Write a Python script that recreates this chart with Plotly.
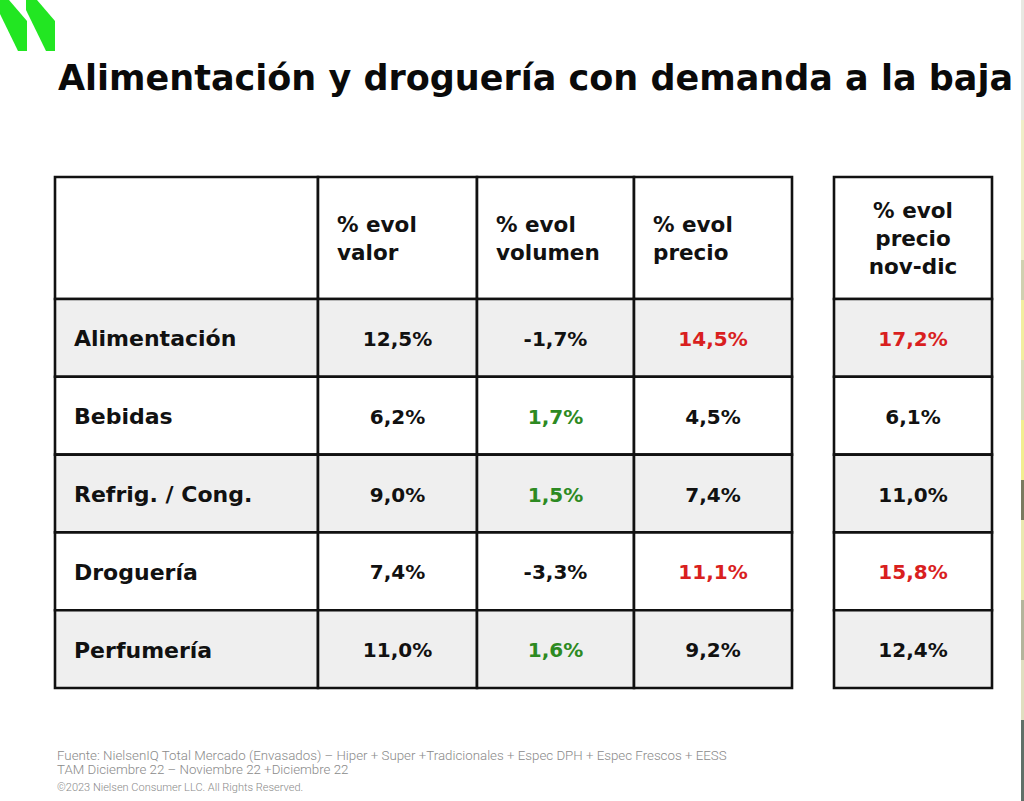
import plotly.graph_objects as go

# ---------------- data ----------------
title_text = "Alimentación y droguería con demanda a la baja"
categories = ["Alimentación", "Bebidas", "Refrig. / Cong.", "Droguería", "Perfumería"]
headers_main = ["% evol<br>valor", "% evol<br>volumen", "% evol<br>precio"]
header_side = "% evol<br>precio<br>nov-dic"
evol_valor = [12.5, 6.2, 9.0, 7.4, 11.0]
evol_volumen = [-1.7, 1.7, 1.5, -3.3, 1.6]
evol_precio = [14.5, 4.5, 7.4, 11.1, 9.2]
evol_precio_novdic = [17.2, 6.1, 11.0, 15.8, 12.4]
# cell highlight flags ("up" = green, "hi" = red)
volumen_flag = ["", "up", "up", "", "up"]
precio_flag = ["hi", "", "", "hi", ""]
novdic_flag = ["hi", "", "", "hi", ""]
footer_lines = [
    "Fuente: NielsenIQ Total Mercado (Envasados) – Hiper + Super +Tradicionales + Espec DPH + Espec Frescos + EESS",
    "TAM Diciembre 22 – Noviembre 22 +Diciembre 22",
]
copyright_text = "©2023 Nielsen Consumer LLC. All Rights Reserved."

# ---------------- styling / layout ----------------
W, H = 1024, 801
RED = "#d91f1f"
GREEN = "#2d8a22"
BLACK = "#111111"
GRAY_FILL = "#efefef"
FONT_B = "DejaVu Sans"
col_edges = [55, 318, 477, 634, 792]
side_edges = [834, 992]
top_y, head_bottom = 177, 299
row_h = 77.8
BORDER = 2.6
TXT_DY = 3  # optical offset for vertical centring of text


def fmt(v):
    return f"{v:.1f}".replace(".", ",") + "%"


def color_of(flag):
    return {"up": GREEN, "hi": RED}.get(flag, BLACK)


fig = go.Figure()
shapes = []

# row boundaries
row_edges = [head_bottom + i * row_h for i in range(len(categories) + 1)]

# header cells
for x0, x1 in list(zip(col_edges[:-1], col_edges[1:])) + [tuple(side_edges)]:
    shapes.append(dict(type="rect", xref="x", yref="y", x0=x0, x1=x1, y0=top_y, y1=head_bottom,
                       fillcolor="white", line=dict(color=BLACK, width=BORDER), layer="below"))
# body cells
for i in range(len(categories)):
    fill = GRAY_FILL if i % 2 == 0 else "white"
    y0, y1 = row_edges[i], row_edges[i + 1]
    for x0, x1 in list(zip(col_edges[:-1], col_edges[1:])) + [tuple(side_edges)]:
        shapes.append(dict(type="rect", xref="x", yref="y", x0=x0, x1=x1, y0=y0, y1=y1,
                           fillcolor=fill, line=dict(color=BLACK, width=BORDER), layer="below"))

# logo stripes
for dx in (0, 28):
    pts = [(-2 + dx, 0), (9 + dx, 0), (27 + dx, 21), (27 + dx, 51), (18 + dx, 51), (-2 + dx, 10)]
    path = "M " + " L ".join(f"{x},{y}" for x, y in pts) + " Z"
    shapes.append(dict(type="path", xref="x", yref="y", path=path,
                       fillcolor="#22e622", line=dict(width=0), layer="below"))

# right-edge photo strip
strip = [(0, 120, "#e8e8e2"), (120, 260, "#f0eec8"), (260, 300, "#d0d0b0"), (300, 360, "#f2eea0"),
         (360, 420, "#dcdcbc"), (420, 480, "#f2ee90"), (480, 520, "#7a7a60"), (520, 600, "#eae8b0"),
         (600, 660, "#b4b49c"), (660, 720, "#e0dec0"), (720, 801, "#607068")]
for y0, y1, c in strip:
    shapes.append(dict(type="rect", xref="x", yref="y", x0=1021, x1=1024, y0=y0, y1=y1,
                       fillcolor=c, line=dict(width=0), layer="below"))

row_mid = [(row_edges[i] + row_edges[i + 1]) / 2 + TXT_DY for i in range(len(categories))]
head_mid = (top_y + head_bottom) / 2 + TXT_DY
col_mid = [(col_edges[j] + col_edges[j + 1]) / 2 for j in range(len(col_edges) - 1)]
side_mid = (side_edges[0] + side_edges[1]) / 2

# row labels
fig.add_trace(go.Scatter(x=[col_edges[0] + 19] * len(categories), y=row_mid, text=categories,
                         mode="text", textposition="middle right",
                         textfont=dict(family=FONT_B, size=22, color=BLACK, weight="bold"),
                         hoverinfo="skip", showlegend=False))

# headers
fig.add_trace(go.Scatter(x=[col_edges[j] + 19 for j in range(1, 4)], y=[head_mid] * 3, text=headers_main,
                         mode="text", textposition="middle right",
                         textfont=dict(family=FONT_B, size=21.5, color=BLACK, weight="bold"),
                         hoverinfo="skip", showlegend=False))
fig.add_trace(go.Scatter(x=[side_mid], y=[head_mid], text=[header_side],
                         mode="text", textposition="middle center",
                         textfont=dict(family=FONT_B, size=21.5, color=BLACK, weight="bold"),
                         hoverinfo="skip", showlegend=False))

# values
series = [
    (col_mid[1], evol_valor, [""] * len(categories)),
    (col_mid[2], evol_volumen, volumen_flag),
    (col_mid[3], evol_precio, precio_flag),
    (side_mid, evol_precio_novdic, novdic_flag),
]
for xc, vals, flags in series:
    fig.add_trace(go.Scatter(x=[xc] * len(vals), y=row_mid, text=[fmt(v) for v in vals],
                             mode="text", textposition="middle center",
                             textfont=dict(family=FONT_B, size=20, color=[color_of(f) for f in flags],
                                           weight="bold"),
                             hoverinfo="skip", showlegend=False))

annotations = [
    dict(x=56, y=78, xref="x", yref="y", text=title_text, showarrow=False, xanchor="left", yanchor="middle",
         font=dict(family=FONT_B, size=35, color="#0a0a0a", weight="bold")),
    dict(x=55, y=755, xref="x", yref="y", text=footer_lines[0], showarrow=False, xanchor="left",
         yanchor="middle", font=dict(family="Roboto", size=13.3, color="#8a8a8a", weight=300)),
    dict(x=55, y=769, xref="x", yref="y", text=footer_lines[1], showarrow=False, xanchor="left",
         yanchor="middle", font=dict(family="Roboto", size=13.3, color="#8a8a8a", weight=300)),
    dict(x=55, y=787, xref="x", yref="y", text=copyright_text, showarrow=False, xanchor="left",
         yanchor="middle", font=dict(family="Roboto", size=11, color="#8a8a8a", weight=300)),
]

fig.update_layout(
    width=W, height=H, margin=dict(l=0, r=0, t=0, b=0),
    paper_bgcolor="white", plot_bgcolor="white",
    xaxis=dict(range=[0, W], visible=False, fixedrange=True),
    yaxis=dict(range=[H, 0], visible=False, fixedrange=True),
    shapes=shapes, annotations=annotations, showlegend=False,
)

fig.write_html("out.html", config={"displayModeBar": False},
               post_script="document.body.style.margin='0';document.body.style.overflow='hidden';")
